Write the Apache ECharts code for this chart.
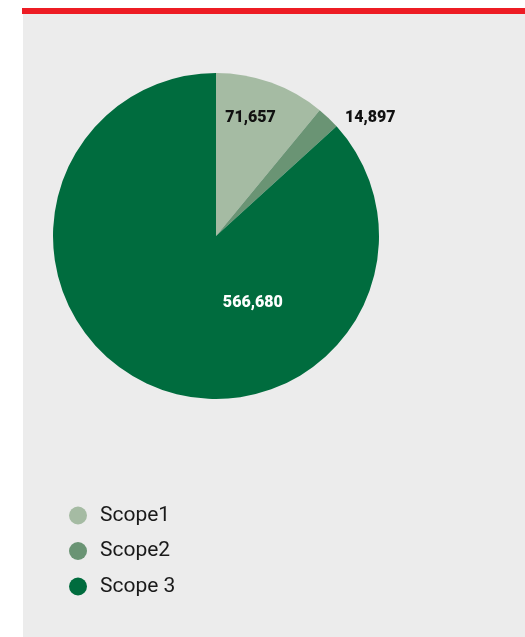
<!DOCTYPE html>
<html><head><meta charset="utf-8">
<script src="https://cdn.jsdelivr.net/npm/echarts@6/dist/echarts.min.js"></script>
<style>html,body{margin:0;padding:0;background:#fff}#c{width:525px;height:637px}</style>
</head><body><div id="c"></div>
<script>
const categories = ['Scope1', 'Scope2', 'Scope 3'];
const values = [71657, 14897, 566680];
const colors = ['#a5bba3', '#6a9474', '#006c3e'];
const labelColors = ['#111', '#111', '#fff'];
const labelOffsets = [[6, -38], [96, -57], [71, -10]];

const chart = echarts.init(document.getElementById('c'), null, {renderer: 'canvas'});
chart.setOption({
  animation: false,
  graphic: [
    {type: 'rect', shape: {x: 23, y: 13, width: 502, height: 624}, style: {fill: '#ececec'}, z: 0},
    {type: 'rect', shape: {x: 22, y: 8, width: 503, height: 6}, style: {fill: '#ed1c24'}, z: 0}
  ],
  legend: {
    orient: 'vertical',
    left: 64, top: 500,
    padding: 5,
    icon: 'circle',
    itemWidth: 18, itemHeight: 18,
    itemGap: 14.5,
    textStyle: {fontFamily: 'Roboto', fontSize: 21, color: '#1a1a1a', padding: [0, 0, 0, 8], lineHeight: 18},
    data: categories
  },
  series: [{
    type: 'pie',
    center: [216, 236],
    radius: [0, 163],
    startAngle: 90,
    clockwise: true,
    silent: true,
    label: {show: true, position: 'inside', fontFamily: 'Roboto', fontWeight: 900, fontSize: 16,
      formatter: p => p.value.toLocaleString('en-US')},
    labelLine: {show: false},
    data: categories.map((c, i) => ({
      name: c, value: values[i],
      itemStyle: {color: colors[i]},
      label: {color: labelColors[i], offset: labelOffsets[i]}
    }))
  }]
});
</script></body></html>
